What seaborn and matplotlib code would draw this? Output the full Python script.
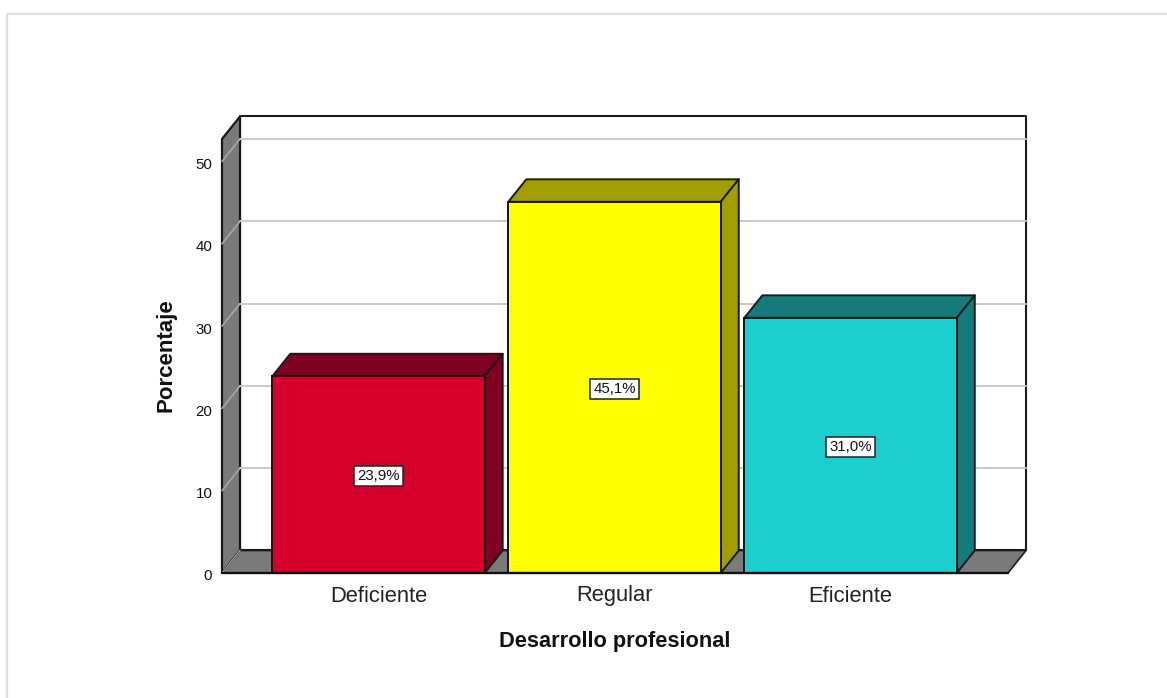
import matplotlib
matplotlib.use("Agg")
import matplotlib.pyplot as plt
from matplotlib.patches import Polygon
from matplotlib.lines import Line2D
from matplotlib.transforms import ScaledTranslation
import pandas as pd
import seaborn as sns

categories = ["Deficiente", "Regular", "Eficiente"]
percentages = [23.9, 45.1, 31.0]
value_labels = ["23,9%", "45,1%", "31,0%"]
y_ticks = [0, 10, 20, 30, 40, 50]
x_title = "Desarrollo profesional"
y_title = "Porcentaje"
front_colors = ["#D7002D", "#FFFF00", "#1BCFCF"]
top_colors = ["#7F0020", "#A09E00", "#137C7A"]
wall_color = "#7A7A7A"
grid_color = "#C9C9C9"

W, H = 1167, 698
sns.set_theme(style="white")
plt.rcParams["font.family"] = ["Liberation Sans", "DejaVu Sans"]

fig = plt.figure(figsize=(W / 100, H / 100), dpi=100, facecolor="white")
ax = fig.add_axes([222 / W, (H - 573) / H, 786 / W, 434 / H])
ax.patch.set_alpha(0)

df = pd.DataFrame({"cat": categories, "pct": percentages})
sns.barplot(data=df, x="cat", y="pct", hue="cat", palette=front_colors, saturation=1,
            width=0.9, edgecolor="#111111", linewidth=1.4, legend=False, ax=ax, zorder=5)

xlim = (-0.663, 2.667)
ylim = (0, 52.73)
ax.set_xlim(xlim)
ax.set_ylim(ylim)
dx = 18 / 236
dy = 22.5 / 8.23

edge = "#1a1a1a"
def poly(points, fc, ec=edge, lw=1.4, z=1):
    ax.add_patch(Polygon(points, closed=True, facecolor=fc, edgecolor=ec, linewidth=lw,
                         zorder=z, clip_on=False, joinstyle="round"))

x0, x1 = xlim
y1 = ylim[1]
# back wall, left wall, floor
poly([(x0 + dx, dy), (x1 + dx, dy), (x1 + dx, y1 + dy), (x0 + dx, y1 + dy)], "white", z=1, lw=1.5)
poly([(x0, 0), (x0, y1), (x0 + dx, y1 + dy), (x0 + dx, dy)], wall_color, z=2, lw=1.6)
poly([(x0, 0), (x1, 0), (x1 + dx, dy), (x0 + dx, dy)], wall_color, z=2, lw=1.2)

# grid lines across the left wall and the back wall
for t in y_ticks[1:]:
    ax.plot([x0, x0 + dx], [t, t + dy], color="#A8A8A8", lw=1.2, zorder=3, clip_on=False)
    ax.plot([x0 + dx, x1 + dx], [t + dy, t + dy], color=grid_color, lw=1.4, zorder=3, clip_on=False)
ax.plot([x0, x0 + dx], [0, dy], color="#A8A8A8", lw=0.9, zorder=3, clip_on=False)

# bar depth faces, built from the bars that seaborn drew
bars = [p for p in ax.patches if isinstance(p, matplotlib.patches.Rectangle) and p.get_height() > 0]
for bar, top, label in zip(bars, top_colors, value_labels):
    a, w, h = bar.get_x(), bar.get_width(), bar.get_height()
    b = a + w
    poly([(a, h), (b, h), (b + dx, h + dy), (a + dx, h + dy)], top, z=4)
    poly([(b, 0), (b, h), (b + dx, h + dy), (b + dx, dy)], top, z=4)
    ax.annotate(label, (a + w / 2, h / 2), xytext=(0, -1), textcoords="offset points",
                ha="center", va="center", fontsize=10.8, color="#111111", zorder=7,
                bbox=dict(boxstyle="square,pad=0.2", facecolor="white", edgecolor="#222222", linewidth=1.1))

ax.add_line(Line2D([x0, x1], [0, 0], color="#111111", lw=1.7, zorder=6, clip_on=False))

for s in ax.spines.values():
    s.set_visible(False)
ax.set_yticks(y_ticks)
ax.set_xticks(range(len(categories)))
ax.set_xticklabels(categories)
ax.tick_params(axis="y", length=0, pad=7, labelsize=10.8, labelcolor="#111111")
ax.tick_params(axis="x", length=0, pad=9, labelsize=15.8, labelcolor="#222222")
ax.grid(False)
ax.set_xlabel("")
ax.set_ylabel("")
shift = ScaledTranslation(0, -2 / 100, fig.dpi_scale_trans)
for lab in ax.get_yticklabels():
    lab.set_transform(lab.get_transform() + shift)

fig.text(615 / W, 1 - 642 / H, x_title, ha="center", va="center", fontsize=15.7, fontweight="bold", color="#111111")
fig.text(166 / W, 1 - 355 / H, y_title, ha="center", va="center", rotation=90, fontsize=16,
         fontweight="bold", color="#111111")

# outer frame of the output window
fig.add_artist(Line2D([7 / W, 7 / W, 1], [0, 1 - 14 / H, 1 - 14 / H], color="#E0E0E0", lw=1.6,
                      transform=fig.transFigure))

fig.savefig("out.png", dpi=100, facecolor="white")
